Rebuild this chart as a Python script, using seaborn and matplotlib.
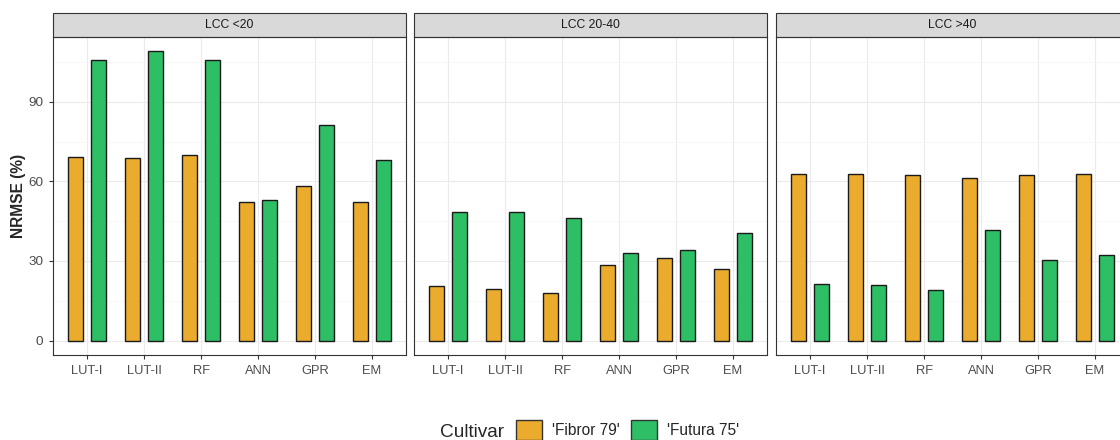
import numpy as np
import pandas as pd
import seaborn as sns
import matplotlib.pyplot as plt
from matplotlib.patches import Rectangle, Patch
from matplotlib.ticker import MultipleLocator

models = ['LUT-I', 'LUT-II', 'RF', 'ANN', 'GPR', 'EM']
panels = ['LCC <20', 'LCC 20-40', 'LCC >40']
cultivars = ["'Fibror 79'", "'Futura 75'"]

fibror_lt20 = [69.3, 68.9, 70.1, 52.4, 58.4, 52.2]
futura_lt20 = [105.6, 109.0, 105.6, 52.9, 81.2, 67.9]
fibror_20_40 = [20.7, 19.4, 18.0, 28.3, 31.2, 27.1]
futura_20_40 = [48.4, 48.5, 46.1, 32.9, 34.2, 40.7]
fibror_gt40 = [62.8, 62.8, 62.6, 61.3, 62.6, 62.8]
futura_gt40 = [21.4, 20.9, 19.0, 41.5, 30.5, 32.4]

colors = {cultivars[0]: '#EBAB2D', cultivars[1]: '#2EBF66'}

rows = []
for panel, fib, fut in zip(panels, [fibror_lt20, fibror_20_40, fibror_gt40],
                           [futura_lt20, futura_20_40, futura_gt40]):
    for m, a, b in zip(models, fib, fut):
        rows.append((panel, m, cultivars[0], a))
        rows.append((panel, m, cultivars[1], b))
df = pd.DataFrame(rows, columns=['LCC', 'Model', 'Cultivar', 'NRMSE'])

sns.set_style('white')
plt.rcParams['font.family'] = ['Liberation Sans', 'DejaVu Sans']

W, H = 1120, 440
fig = plt.figure(figsize=(W / 100, H / 100), dpi=100)
lefts = [53, 414, 776]
pw, top, bottom = 353, 37, 355
ph = bottom - top
strip_h = 23.5

for i, panel in enumerate(panels):
    ax = fig.add_axes([lefts[i] / W, 1 - bottom / H, pw / W, ph / H])
    sns.barplot(data=df[df.LCC == panel], x='Model', y='NRMSE', hue='Cultivar',
                order=models, hue_order=cultivars, palette=colors, width=0.8, gap=0.35,
                edgecolor='#1a1a1a', linewidth=1.0, saturation=1, errorbar=None,
                legend=False, ax=ax)
    ax.set_xlim(-0.6, 5.6)
    ax.set_ylim(-5.45, 114.45)
    ax.yaxis.set_major_locator(MultipleLocator(30))
    ax.yaxis.set_minor_locator(MultipleLocator(15))
    ax.set_axisbelow(True)
    ax.grid(which='major', color='#EBEBEB', lw=0.8)
    ax.grid(which='minor', axis='y', color='#F4F4F4', lw=0.5)
    for s in ax.spines.values():
        s.set_color('#333333')
        s.set_linewidth(0.8)
    ax.tick_params(axis='x', length=3, width=0.8, color='#333333', labelsize=9.3,
                   labelcolor='#4D4D4D', pad=4, bottom=True)
    ax.tick_params(axis='y', which='minor', length=0)
    ax.set_xlabel('')
    if i == 0:
        ax.tick_params(axis='y', which='major', length=3, width=0.8, color='#333333',
                       labelsize=9.7, labelcolor='#4D4D4D', pad=4, left=True)
        ax.set_ylabel('NRMSE (%)', fontsize=11.2, fontweight='bold', labelpad=2)
    else:
        ax.tick_params(axis='y', which='major', length=0, labelleft=False)
        ax.set_ylabel('')
    ax.add_patch(Rectangle((0, 1), 1, strip_h / ph, transform=ax.transAxes, clip_on=False,
                           facecolor='#D9D9D9', edgecolor='#333333', lw=0.8))
    ax.text(0.5, 1 + strip_h / 2 / ph, panel, transform=ax.transAxes, ha='center',
            va='center', fontsize=8.7, color='#1A1A1A')

fig.text(440 / W, 1 - 432 / H, 'Cultivar', fontsize=13.7, va='center', ha='left')
handles = [Patch(facecolor=colors[c], edgecolor='#333333', lw=1.0, label=c) for c in cultivars]
fig.legend(handles=handles, loc='center left', bbox_to_anchor=(516 / W, 1 - 430 / H), ncol=2,
           frameon=False, fontsize=11.2, handlelength=1.67, handleheight=1.67,
           handletextpad=0.64, columnspacing=0.7, borderpad=0, borderaxespad=0)

fig.savefig('out.png', dpi=100)
